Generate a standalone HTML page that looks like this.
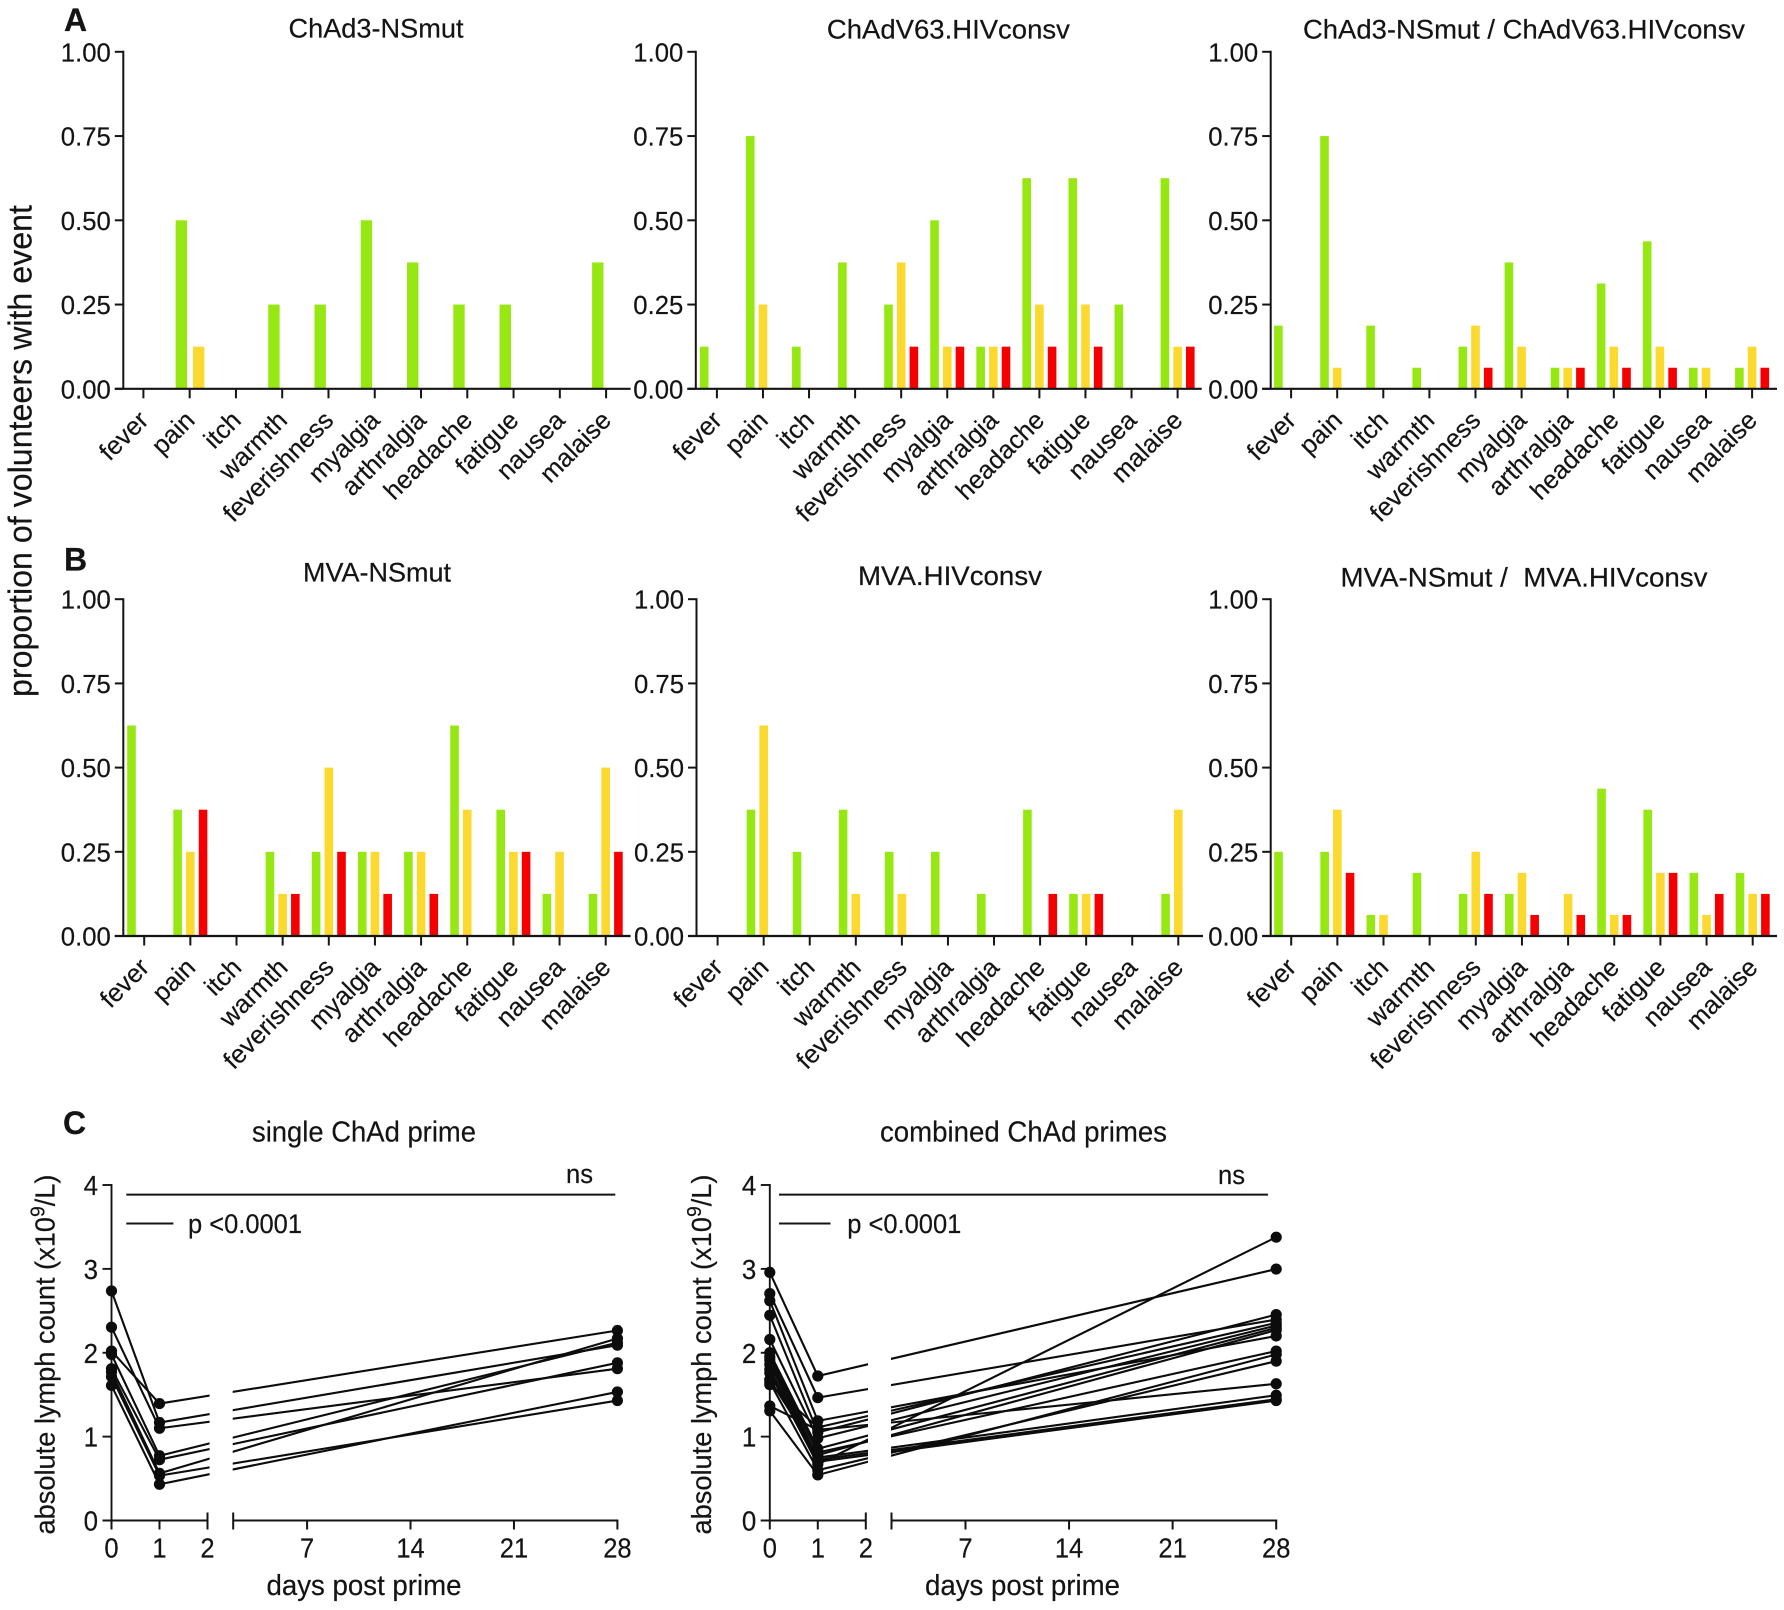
<!DOCTYPE html>
<html lang="en">
<head>
<meta charset="utf-8">
<title>Adverse events and lymphocyte counts</title>
<style>
html,body{margin:0;padding:0;background:#fff;}
svg{display:block;}
text{font-family:"Liberation Sans",Arial,sans-serif;fill:#141414;stroke:#141414;stroke-width:0.2px;}
</style>
</head>
<body>
<svg id="fig" xmlns="http://www.w3.org/2000/svg" width="1784" height="1610" viewBox="0 0 1784 1610">
  <rect x="0" y="0" width="1784" height="1610" fill="#fff"/>
  <text x="64" y="31" font-size="32" font-weight="bold">A</text>
  <text x="64" y="570.5" font-size="32" font-weight="bold">B</text>
  <text x="63" y="1134" font-size="32" font-weight="bold">C</text>

  <text x="376" y="37.5" font-size="26.5" text-anchor="middle" textLength="175" lengthAdjust="spacingAndGlyphs">ChAd3-NSmut</text>
  <text x="948.4" y="38.5" font-size="26.5" text-anchor="middle" textLength="243" lengthAdjust="spacingAndGlyphs">ChAdV63.HIVconsv</text>
  <text x="1524" y="38.5" font-size="26.5" text-anchor="middle" textLength="442" lengthAdjust="spacingAndGlyphs">ChAd3-NSmut / ChAdV63.HIVconsv</text>
  <text x="377" y="581.3" font-size="26.5" text-anchor="middle" textLength="148" lengthAdjust="spacingAndGlyphs">MVA-NSmut</text>
  <text x="950" y="584.8" font-size="26.5" text-anchor="middle" textLength="184" lengthAdjust="spacingAndGlyphs">MVA.HIVconsv</text>
  <text x="1524" y="586.5" font-size="26.5" text-anchor="middle" textLength="367" lengthAdjust="spacingAndGlyphs" xml:space="preserve" style="white-space:pre">MVA-NSmut /  MVA.HIVconsv</text>
  <text x="364" y="1141.4" font-size="29" text-anchor="middle" textLength="224" lengthAdjust="spacingAndGlyphs">single ChAd prime</text>
  <text x="1023.5" y="1141.4" font-size="29" text-anchor="middle" textLength="287" lengthAdjust="spacingAndGlyphs">combined ChAd primes</text>

  <text transform="translate(31.5 451) rotate(-90)" font-size="33" text-anchor="middle" textLength="492" lengthAdjust="spacingAndGlyphs">proportion of volunteers with event</text>
  <text transform="translate(54.7 1354.5) rotate(-90)" font-size="28" text-anchor="middle" textLength="360" lengthAdjust="spacingAndGlyphs">absolute lymph count (x10<tspan font-size="20" dy="-10">9</tspan><tspan dy="10">/L)</tspan></text>
  <text transform="translate(711 1354.5) rotate(-90)" font-size="28" text-anchor="middle" textLength="360" lengthAdjust="spacingAndGlyphs">absolute lymph count (x10<tspan font-size="20" dy="-10">9</tspan><tspan dy="10">/L)</tspan></text>
  <text x="364" y="1595" font-size="29" text-anchor="middle" textLength="195" lengthAdjust="spacingAndGlyphs">days post prime</text>
  <text x="1022.5" y="1595" font-size="29" text-anchor="middle" textLength="195" lengthAdjust="spacingAndGlyphs">days post prime</text>

  <text x="579.5" y="1183" font-size="27" text-anchor="middle" textLength="27" lengthAdjust="spacingAndGlyphs">ns</text>
  <text x="1231.5" y="1184" font-size="27" text-anchor="middle" textLength="27" lengthAdjust="spacingAndGlyphs">ns</text>
  <text x="188" y="1233" font-size="27" textLength="114" lengthAdjust="spacingAndGlyphs">p &lt;0.0001</text>
  <text x="847.3" y="1233" font-size="27" textLength="114" lengthAdjust="spacingAndGlyphs">p &lt;0.0001</text>

  <line x1="126.3" y1="1194.6" x2="615.3" y2="1194.6" stroke="#141414" stroke-width="2"/>
  <line x1="126.3" y1="1223.5" x2="173.4" y2="1223.5" stroke="#141414" stroke-width="2"/>
  <line x1="779" y1="1194.6" x2="1268" y2="1194.6" stroke="#141414" stroke-width="2"/>
  <line x1="779" y1="1223.5" x2="830.5" y2="1223.5" stroke="#141414" stroke-width="2"/>

  <g id="charts"></g>
</svg>
<script>
// ---- Panels A and B: shared labels ----
const symptoms = ["fever","pain","itch","warmth","feverishness","myalgia","arthralgia","headache","fatigue","nausea","malaise"];
const proportionTicks = [0, 0.25, 0.5, 0.75, 1];
const proportionTickLabels = ["0.00","0.25","0.50","0.75","1.00"];

// ChAd3-NSmut
const a1Green  = [0,0.5,0,0.25,0.25,0.5,0.375,0.25,0.25,0,0.375];
const a1Yellow = [0,0.125,0,0,0,0,0,0,0,0,0];
const a1Red    = [0,0,0,0,0,0,0,0,0,0,0];
// ChAdV63.HIVconsv
const a2Green  = [0.125,0.75,0.125,0.375,0.25,0.5,0.125,0.625,0.625,0.25,0.625];
const a2Yellow = [0,0.25,0,0,0.375,0.125,0.125,0.25,0.25,0,0.125];
const a2Red    = [0,0,0,0,0.125,0.125,0.125,0.125,0.125,0,0.125];
// ChAd3-NSmut / ChAdV63.HIVconsv
const a3Green  = [0.1875,0.75,0.1875,0.0625,0.125,0.375,0.0625,0.3125,0.4375,0.0625,0.0625];
const a3Yellow = [0,0.0625,0,0,0.1875,0.125,0.0625,0.125,0.125,0.0625,0.125];
const a3Red    = [0,0,0,0,0.0625,0,0.0625,0.0625,0.0625,0,0.0625];
// MVA-NSmut
const b1Green  = [0.625,0.375,0,0.25,0.25,0.25,0.25,0.625,0.375,0.125,0.125];
const b1Yellow = [0,0.25,0,0.125,0.5,0.25,0.25,0.375,0.25,0.25,0.5];
const b1Red    = [0,0.375,0,0.125,0.25,0.125,0.125,0,0.25,0,0.25];
// MVA.HIVconsv
const b2Green  = [0,0.375,0.25,0.375,0.25,0.25,0.125,0.375,0.125,0,0.125];
const b2Yellow = [0,0.625,0,0.125,0.125,0,0,0,0.125,0,0.375];
const b2Red    = [0,0,0,0,0,0,0,0.125,0.125,0,0];
// MVA-NSmut / MVA.HIVconsv
const b3Green  = [0.25,0.25,0.0625,0.1875,0.125,0.125,0,0.4375,0.375,0.1875,0.1875];
const b3Yellow = [0,0.375,0.0625,0,0.25,0.1875,0.125,0.0625,0.1875,0.0625,0.125];
const b3Red    = [0,0.1875,0,0,0.125,0.0625,0.0625,0.0625,0.1875,0.125,0.125];

// ---- Panel C ----
const lymphTicks = [0,1,2,3,4];
const dayTicks = [0,1,2,7,14,21,28];
const singleDay0  = [2.737,2.305,2.02,1.98,1.81,1.77,1.715,1.61];
const singleDay1  = [1.168,1.10,1.394,0.772,0.725,0.562,0.535,0.432];
const singleDay28 = [2.09,1.81,2.265,2.12,1.88,2.17,1.43,1.533];
const combinedDay0  = [2.958,2.705,2.62,1.62,1.366,2.447,2.158,2.0,1.95,1.913,1.86,1.8,1.76,1.68,1.65,1.307];
const combinedDay1  = [1.723,1.465,1.188,1.11,1.08,1.05,0.98,0.855,0.81,0.75,0.725,0.70,0.67,0.78,0.60,0.543];
const combinedDay28 = [2.998,2.396,2.2,2.356,1.63,2.455,2.325,2.297,2.02,1.493,1.446,1.43,3.378,2.27,1.9,1.98];

const NS = "http://www.w3.org/2000/svg";
const INK = "#141414";
const GREEN = "#97e812", YELLOW = "#fbd92f", RED = "#f40000";
const root = document.getElementById("charts");

function make(tag, parent, attrs, content) {
  const node = document.createElementNS(NS, tag);
  for (const k in attrs) node.setAttribute(k, attrs[k]);
  if (content !== undefined) node.textContent = content;
  parent.appendChild(node);
  return node;
}

function drawBarChart(slug, frame, green, yellow, red) {
  const g = make("g", root, {});
  
  
  const yPos = v => frame.y0 - v * (frame.y0 - frame.y1);
  const xPos = i => frame.xFirst + i * frame.step;
  const series = [[green, GREEN, "green", frame.offsets[0]], [yellow, YELLOW, "yellow", frame.offsets[1]], [red, RED, "red", frame.offsets[2]]];
  series.forEach(s => {
    s[0].forEach((v, i) => {
      if (v <= 0) return;
      const bar = make("rect", g, {x: xPos(i) + s[3] - frame.barW / 2, y: yPos(v), width: frame.barW, height: frame.y0 - yPos(v), fill: s[1]});
      
      
    });
  });
  const yAxis = make("line", g, {x1: frame.axisX, y1: frame.y1 - 1, x2: frame.axisX, y2: frame.y0, stroke: INK, "stroke-width": 2});
  
  
  const xAxis = make("line", g, {x1: frame.axisX - 8.5, y1: frame.y0, x2: frame.xEnd, y2: frame.y0, stroke: INK, "stroke-width": 2.2});
  
  
  proportionTicks.forEach((v, i) => {
    const t = make("line", g, {x1: frame.axisX - 8.5, y1: yPos(v), x2: frame.axisX, y2: yPos(v), stroke: INK, "stroke-width": 2});
    
    
    const l = make("text", g, {x: frame.axisX - 12.5, y: yPos(v) + 9.5, "font-size": 26, "text-anchor": "end", textLength: 50, lengthAdjust: "spacingAndGlyphs"}, proportionTickLabels[i]);
    
    
  });
  symptoms.forEach((name, i) => {
    const t = make("line", g, {x1: xPos(i), y1: frame.y0, x2: xPos(i), y2: frame.y0 + 9.5, stroke: INK, "stroke-width": 2});
    
    
    const lx = xPos(i) + 6.5, ly = frame.y0 + 33;
    const l = make("text", g, {x: lx, y: ly, "font-size": 25.6, "text-anchor": "end", transform: "rotate(-45 " + lx + " " + ly + ")"}, name);
    
    
  });
}

function drawLymphChart(slug, frame, day0, day1, day28) {
  const g = make("g", root, {});
  
  
  const yPos = v => frame.y0 - v * (frame.y0 - frame.y4) / 4;
  const xPos = d => d <= 2
    ? frame.x0 + d * (frame.x2 - frame.x0) / 2
    : frame.x2b + (d - 2) * (frame.x28 - frame.x2b) / 26;
  day0.forEach((v, i) => {
    const d = "M" + xPos(0) + " " + yPos(v) + "L" + xPos(1) + " " + yPos(day1[i]) + "L" + xPos(28) + " " + yPos(day28[i]);
    const p = make("path", g, {d: d, fill: "none", stroke: "#0c0c0c", "stroke-width": 2.1});
    
    
  });
  const gapTop = frame.y4 + 60;
  const gap = make("rect", g, {x: frame.gapL, y: gapTop, width: frame.gapR - frame.gapL, height: frame.y0 - gapTop - 4, fill: "#fff"});
  
  
  const yAxis = make("line", g, {x1: frame.x0, y1: frame.y4 - 1, x2: frame.x0, y2: frame.y0, stroke: INK, "stroke-width": 1.9});
  
  
  const xLeft = make("line", g, {x1: frame.x0 - 9, y1: frame.y0, x2: frame.x2, y2: frame.y0, stroke: INK, "stroke-width": 2});
  
  
  const xRight = make("line", g, {x1: frame.x2b, y1: frame.y0, x2: frame.x28 + 1, y2: frame.y0, stroke: INK, "stroke-width": 2});
  
  
  const breakTick = make("line", g, {x1: frame.x2b, y1: frame.y0 - 8, x2: frame.x2b, y2: frame.y0 + 9, stroke: INK, "stroke-width": 2});
  
  
  lymphTicks.forEach(v => {
    const t = make("line", g, {x1: frame.x0 - 9, y1: yPos(v), x2: frame.x0, y2: yPos(v), stroke: INK, "stroke-width": 1.9});
    
    
    const l = make("text", g, {x: frame.x0 - 13.5, y: yPos(v) + 10, "font-size": 27.5, "text-anchor": "end", textLength: 14.4, lengthAdjust: "spacingAndGlyphs"}, String(v));
    
    
  });
  dayTicks.forEach(d => {
    const top = d === 2 ? frame.y0 - 8 : frame.y0;
    const t = make("line", g, {x1: xPos(d), y1: top, x2: xPos(d), y2: frame.y0 + 9, stroke: INK, "stroke-width": 2});
    
    
    const l = make("text", g, {x: xPos(d), y: frame.y0 + 37, "font-size": 28, "text-anchor": "middle", textLength: String(d).length * 14.2, lengthAdjust: "spacingAndGlyphs"}, String(d));
    
    
  });
  [[0, day0], [1, day1], [28, day28]].forEach(col => {
    col[1].forEach(v => {
      const c = make("circle", g, {cx: xPos(col[0]), cy: yPos(v), r: 5.6, fill: "#0c0c0c"});
      
      
    });
  });
}

const twoSeries = {barW: 11.4, offsets: [-8.3, 9, 13]};
const threeSeries = {barW: 8.6, offsets: [-12.7, 0, 12.7]};

drawBarChart("chad3-nsmut", Object.assign({axisX: 123.3, y1: 51.8, y0: 388.8, xFirst: 143.4, step: 46.27, xEnd: 630.6}, twoSeries), a1Green, a1Yellow, a1Red);
drawBarChart("chadv63-hivconsv", Object.assign({axisX: 695.8, y1: 51.8, y0: 388.8, xFirst: 716.9, step: 46.07, xEnd: 1201.7}, threeSeries), a2Green, a2Yellow, a2Red);
drawBarChart("chad3-chadv63", Object.assign({axisX: 1270.7, y1: 51.8, y0: 388.8, xFirst: 1291.1, step: 46.1, xEnd: 1777}, threeSeries), a3Green, a3Yellow, a3Red);
drawBarChart("mva-nsmut", Object.assign({axisX: 123.3, y1: 599.2, y0: 936, xFirst: 144.2, step: 46.15, xEnd: 630.6}, threeSeries), b1Green, b1Yellow, b1Red);
drawBarChart("mva-hivconsv", Object.assign({axisX: 696.5, y1: 599.2, y0: 936, xFirst: 717.6, step: 46.07, xEnd: 1203}, threeSeries), b2Green, b2Yellow, b2Red);
drawBarChart("mva-combined", Object.assign({axisX: 1270.7, y1: 599.2, y0: 936, xFirst: 1291.2, step: 46.15, xEnd: 1777}, threeSeries), b3Green, b3Yellow, b3Red);

drawLymphChart("single-prime", {x0: 111.5, x2: 207.5, x2b: 233.2, x28: 617.4, y4: 1185, y0: 1520.5, gapL: 209.6, gapR: 232.7}, singleDay0, singleDay1, singleDay28);
drawLymphChart("combined-primes", {x0: 769.8, x2: 865.8, x2b: 891.5, x28: 1276.2, y4: 1185, y0: 1520.5, gapL: 868, gapR: 891}, combinedDay0, combinedDay1, combinedDay28);
</script>
</body>
</html>
